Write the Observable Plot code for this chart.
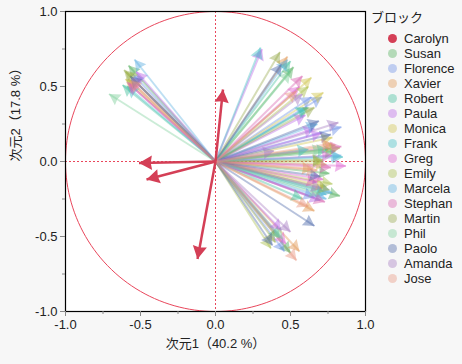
<!DOCTYPE html>
<html><head><meta charset="utf-8">
<script src="https://cdn.jsdelivr.net/npm/d3@7"></script>
<script src="https://cdn.jsdelivr.net/npm/@observablehq/plot@0.6"></script>
<style>
body{margin:0;background:#f7f7f7;font-family:"Liberation Sans",Arial,sans-serif;}
#wrap{position:relative;width:462px;height:364px;overflow:hidden}
#chart{position:absolute;left:0;top:0}
#legend{position:absolute;left:371px;top:9px;font-size:13px;color:#222}
#legend .title{margin-bottom:6px;font-family:"Noto Sans CJK JP",sans-serif;font-size:13px;line-height:16px}
#legend .item{display:flex;align-items:center;height:15px;line-height:15px}
#legend .dot{width:9px;height:9px;border-radius:50%;margin-left:17px;margin-right:7px}
</style></head>
<body><div id="wrap"><div id="chart"></div><div id="legend"></div></div>
<script>
const judges = ["Carolyn","Susan","Florence","Xavier","Robert","Paula","Monica","Frank","Greg","Emily","Marcela","Stephan","Martin","Phil","Paolo","Amanda","Jose"];
const judgeColors = ["#d43f56","#4fae5a","#6b8ee6","#e0954f","#3fbf9a","#b865e6","#cfc44a","#3fbfc4","#dd5fd0","#a8bf4a","#5aaee0","#d85fae","#95a84a","#7ccf9a","#4a66a8","#a57ac0","#e8957f"];

const carolyn  = [[0.05,0.48],[-0.51,-0.01],[-0.46,-0.12],[-0.12,-0.65]];
const susan    = [[-0.58,0.64],[0.52,0.63],[0.80,0.07],[0.76,-0.08],[0.83,-0.23],[0.50,-0.61]];
const florence = [[-0.55,0.58],[0.64,0.43],[0.71,0.43],[0.84,0.23],[0.66,-0.24],[0.46,-0.60]];
const xavier   = [[-0.58,0.55],[0.48,0.70],[0.80,0.11],[0.65,-0.05],[0.66,-0.33],[0.56,-0.60]];
const robert   = [[-0.62,0.51],[0.50,0.67],[0.75,0.08],[0.58,-0.25],[0.43,-0.51],[0.62,0.36]];
const paula    = [[-0.53,0.60],[0.31,0.75],[0.60,0.31],[0.66,0.22],[0.71,0.19],[0.70,-0.26],[0.44,-0.46]];
const monica   = [[-0.60,0.55],[0.64,0.56],[0.72,0.46],[0.78,0.16],[0.74,-0.02],[0.74,-0.17]];
const frank    = [[-0.59,0.50],[0.30,0.76],[0.61,0.36],[0.62,0.08],[0.85,0.03],[0.74,-0.22]];
const greg     = [[-0.58,0.52],[0.78,0.04],[0.87,-0.03],[0.72,-0.12],[0.47,-0.55],[0.56,0.50]];
const emily    = [[-0.60,0.60],[0.62,0.50],[0.83,0.09],[0.78,-0.15],[0.37,-0.58],[0.72,0.00]];
const marcela  = [[-0.54,0.68],[0.84,0.04],[0.78,-0.21],[0.68,0.25],[0.48,0.68],[0.74,-0.25]];
const stephan  = [[-0.59,0.53],[0.58,0.57],[0.77,-0.04],[0.68,-0.14],[0.73,-0.27],[0.84,0.10]];
const martin   = [[-0.61,0.61],[0.43,0.73],[0.66,0.36],[0.72,0.01],[0.76,-0.19],[0.40,-0.54]];
const phil     = [[-0.71,0.45],[0.50,0.60],[0.72,0.08],[0.70,-0.22],[0.45,-0.52]];
const paolo    = [[-0.57,0.57],[0.44,0.65],[0.69,0.27],[0.77,0.18],[0.70,-0.10],[0.66,-0.43],[0.38,-0.56]];
const amanda   = [[-0.56,0.56],[0.58,0.45],[0.82,0.26],[0.39,0.07],[0.71,-0.18],[0.50,-0.47]];
const jose     = [[-0.57,0.54],[0.54,0.47],[0.78,0.12],[0.68,-0.06],[0.62,-0.30],[0.54,-0.66]];

const majorTicks = [-1,-0.5,0,0.5,1];
const minorTicks = [-0.75,-0.25,0.25,0.75];
const xLabel = "次元1（40.2 %）";
const yLabel = "次元2（17.8 %）";

const blocks = [carolyn,susan,florence,xavier,robert,paula,monica,frank,greg,emily,marcela,stephan,martin,phil,paolo,amanda,jose];
const rows = [];
blocks.forEach((arr,i)=>arr.forEach(([x,y])=>rows.push({judge:judges[i],x,y,rot:90-Math.atan2(y,x)*180/Math.PI})));
const others = rows.filter(d=>d.judge!=="Carolyn");
const main = rows.filter(d=>d.judge==="Carolyn");
const circle = d3.range(0,361,2).map(a=>({x:Math.cos(a*Math.PI/180),y:Math.sin(a*Math.PI/180)}));
const fmt = d=>d3.format(".1f")(d).replace("−","-");
// arrowhead symbol: tip at the dot's centre, pointing up before rotation
const headOf = (l,wf) => ({draw(ctx,size){const w=l*wf;ctx.moveTo(0,0);ctx.lineTo(w,l);ctx.lineTo(0,l*0.9);ctx.lineTo(-w,l);ctx.closePath();}});
const red = "#e9475c";
const ff = "'Liberation Sans',Arial,'Noto Sans CJK JP',sans-serif";

const chart = Plot.plot({
  width:380,height:364,marginLeft:65,marginRight:15,marginTop:11,marginBottom:53,
  style:{background:"transparent",fontSize:"13px",fontFamily:ff,color:"#222"},
  x:{domain:[-1,1],label:null},
  y:{domain:[-1,1],label:null},
  color:{domain:judges,range:judgeColors},
  marks:[
    Plot.frame({fill:"white",stroke:"none"}),
    Plot.line(circle,{x:"x",y:"y",stroke:red,strokeWidth:1}),
    Plot.ruleX([0],{stroke:red,strokeDasharray:"2,2",strokeWidth:1}),
    Plot.ruleY([0],{stroke:red,strokeDasharray:"2,2",strokeWidth:1}),
    Plot.link(others,{x1:d=>0,y1:d=>0,x2:"x",y2:"y",stroke:"judge",strokeOpacity:0.4,strokeWidth:2}),
    Plot.dot(others,{x:"x",y:"y",rotate:"rot",r:4,symbol:headOf(11,0.58),fill:"judge",fillOpacity:0.45,stroke:"none"}),
    Plot.link(main,{x1:d=>0,y1:d=>0,x2:"x",y2:"y",stroke:"judge",strokeWidth:2.5}),
    Plot.dot(main,{x:"x",y:"y",rotate:"rot",r:4,symbol:headOf(13,0.55),fill:"judge",stroke:"none"}),
    Plot.frame({stroke:"black",strokeWidth:1.2}),
    Plot.axisX({ticks:majorTicks,tickFormat:fmt,tickSize:5,stroke:"#888",tickPadding:3,label:null,fontSize:13,fill:"#222"}),
    Plot.axisX({ticks:minorTicks,tickFormat:()=>"",tickSize:3,stroke:"#888",label:null}),
    Plot.axisY({ticks:majorTicks,tickFormat:fmt,tickSize:5,stroke:"#888",tickPadding:3,label:null,fontSize:13,fill:"#222"}),
    Plot.axisY({ticks:minorTicks,tickFormat:()=>"",tickSize:3,stroke:"#888",label:null}),
    Plot.text([xLabel],{frameAnchor:"bottom",dy:36,fontSize:13,fill:"#222"}),
    Plot.text([yLabel],{frameAnchor:"left",dx:-50,rotate:-90,fontSize:13,fill:"#222"})
  ]
});
document.getElementById("chart").appendChild(chart);

const lg = document.getElementById("legend");
lg.innerHTML = `<div class="title">ブロック</div>` + judges.map((j,i)=>`<div class="item"><span class="dot" style="background:${judgeColors[i]};opacity:${i===0?1:0.4}"></span>${j}</div>`).join("");
</script></body></html>
